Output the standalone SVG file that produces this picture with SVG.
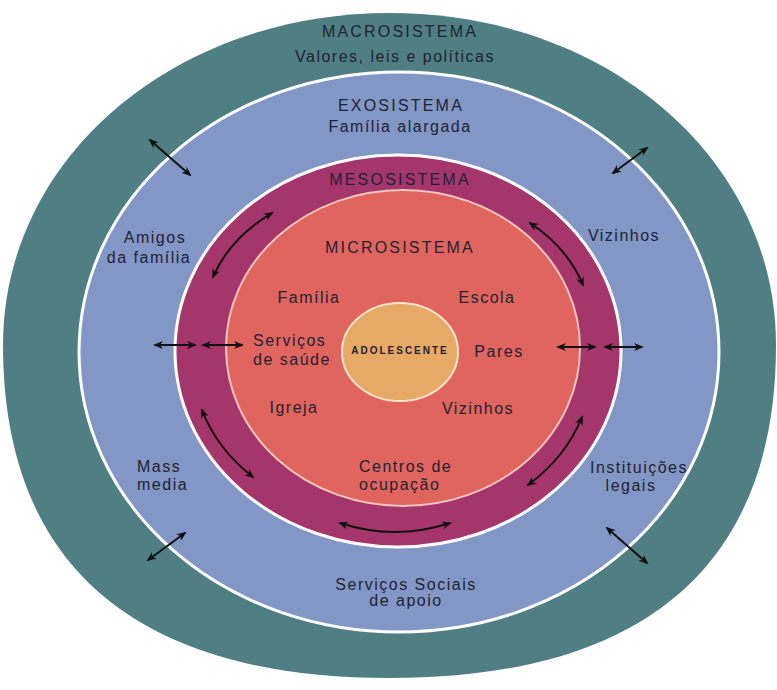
<svg xmlns="http://www.w3.org/2000/svg" width="777" height="690" viewBox="0 0 777 690">
<defs>
<style>
.t{font-family:"Liberation Sans",Arial,sans-serif;font-size:16px;fill:#1f2233;letter-spacing:1.5px;text-anchor:middle}
.cap{letter-spacing:2.2px}
.s{text-anchor:start}
.con{fill:none;stroke:#111;stroke-width:2;marker-start:url(#ah);marker-end:url(#ah)}
</style>
<marker id="ah" viewBox="0 0 10 8" refX="8" refY="4" markerWidth="10" markerHeight="8" markerUnits="userSpaceOnUse" orient="auto-start-reverse">
<path d="M0,0 L10,4 L0,8 L3,4 z" fill="#111"/>
</marker>
</defs>
<rect width="777" height="690" fill="#fff"/>

<g id="macrosistema">
<path d="M3,345 C3,159 173,13 390,13 C607,13 776,159 776,345 C776,565 645,678 390,678 C135,678 3,565 3,345 Z" fill="#4f7f83"/>
<text class="t cap" x="400" y="37">MACROSISTEMA</text>
<text class="t" x="395" y="62">Valores, leis e políticas</text>
</g>

<g id="exosistema">
<ellipse cx="399" cy="352" rx="320" ry="280" fill="#8297c5" stroke="#fff" stroke-width="3"/>
<text class="t cap" x="401" y="111">EXOSISTEMA</text>
<text class="t" x="400" y="132">Família alargada</text>
</g>

<g id="mesosistema">
<ellipse cx="398" cy="351" rx="223" ry="196" fill="#a4366b" stroke="#fff" stroke-width="3"/>
<text class="t cap" x="400" y="185">MESOSISTEMA</text>
</g>

<g id="microsistema">
<ellipse cx="403" cy="348" rx="177" ry="158" fill="#e0655f" stroke="#f4c6bd" stroke-width="2"/>
<text class="t cap" x="400" y="253">MICROSISTEMA</text>
</g>

<g id="adolescente">
<ellipse cx="400" cy="352" rx="58" ry="49" fill="#e6aa66" stroke="#f8e4cc" stroke-width="2"/>
<text class="t" x="400" y="354" style="font-size:10px;font-weight:bold;letter-spacing:2px">ADOLESCENTE</text>
</g>

<g id="amigos-familia"><text class="t" x="155" y="243">Amigos</text><text class="t" x="149" y="263">da família</text></g>
<g id="vizinhos-exo"><text class="t" x="624" y="241">Vizinhos</text></g>
<g id="mass-media"><text class="t s" x="137" y="472">Mass</text><text class="t s" x="137" y="490">media</text></g>
<g id="instituicoes-legais"><text class="t" x="639" y="473">Instituições</text><text class="t" x="631" y="491">legais</text></g>
<g id="servicos-sociais"><text class="t" x="406" y="590">Serviços Sociais</text><text class="t" x="406" y="606">de apoio</text></g>

<g id="familia"><text class="t" x="309" y="303">Família</text></g>
<g id="escola"><text class="t" x="487" y="303">Escola</text></g>
<g id="servicos-saude"><text class="t s" x="253" y="346">Serviços</text><text class="t s" x="253" y="365">de saúde</text></g>
<g id="pares"><text class="t" x="499" y="357">Pares</text></g>
<g id="igreja"><text class="t" x="294" y="413">Igreja</text></g>
<g id="vizinhos-micro"><text class="t" x="478" y="414">Vizinhos</text></g>
<g id="centros-ocupacao"><text class="t s" x="359" y="472">Centros de</text><text class="t s" x="359" y="490">ocupação</text></g>

<g id="connectors">
<path class="con" d="M150,140 L190,175"/>
<path class="con" d="M647,148 L613,173"/>
<path class="con" d="M155,345 L195,345"/>
<path class="con" d="M203,345 L242,345"/>
<path class="con" d="M558,347 L595,347"/>
<path class="con" d="M605,347 L642,347"/>
<path class="con" d="M185,533 L148,560"/>
<path class="con" d="M607,528 L647,563"/>
<path class="con" d="M213,277 Q230,238 272,213"/>
<path class="con" d="M530,223 Q567,247 583,285"/>
<path class="con" d="M202,410 Q217,449 253,477"/>
<path class="con" d="M582,417 Q566,457 528,485"/>
<path class="con" d="M340,523 Q395,541 450,523"/>
</g>
</svg>
